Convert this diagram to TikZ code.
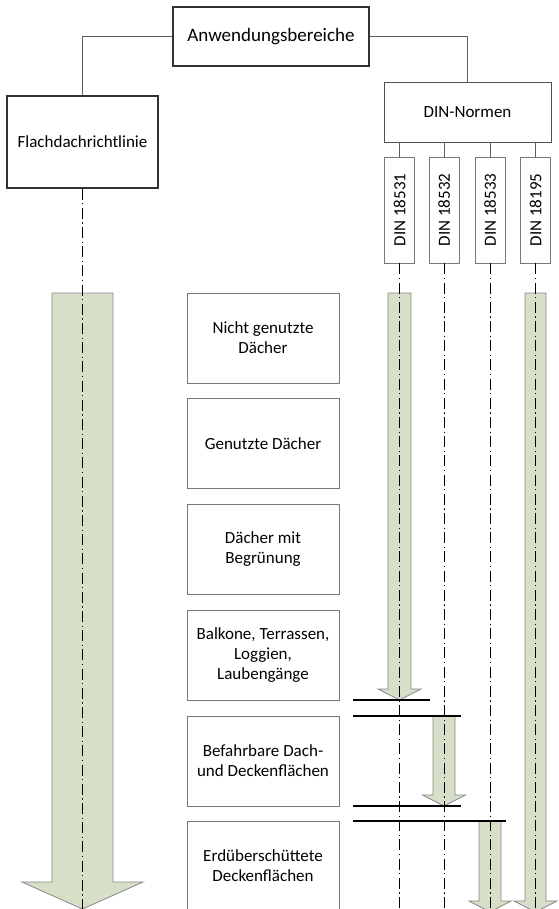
\documentclass[tikz,border=0pt]{standalone}
\usepackage{fontspec}
\setmainfont{Carlito}
\definecolor{arrowgreen}{RGB}{214,223,200}
\definecolor{arrowedge}{RGB}{135,135,135}
\definecolor{boxdark}{RGB}{50,50,50}
\definecolor{boxgray}{RGB}{120,120,120}
\definecolor{linkgray}{RGB}{95,95,95}
\begin{document}
\begin{tikzpicture}[x=1pt,y=-1pt,
  mainbox/.style={draw=boxdark,line width=1.3pt,fill=white,inner sep=0pt,align=center,font=\fontsize{17}{20}\selectfont},
  normbox/.style={draw=boxgray,line width=0.9pt,fill=white,inner sep=0pt,align=center,font=\fontsize{17}{20}\selectfont},
  dinbox/.style={normbox,minimum width=30pt,minimum height=106pt},
  catbox/.style={normbox,minimum width=152pt,minimum height=90pt},
  link/.style={draw=linkgray,line width=0.9pt},
  axis/.style={draw=black,line width=0.9pt,dash pattern=on 11pt off 3.5pt on 1.2pt off 3.5pt},
  fatarrow/.style={fill=arrowgreen,draw=arrowedge,line width=0.8pt},
  limit/.style={draw=black,line width=1.6pt}]
\useasboundingbox (0,0) rectangle (558,909);
\clip (0,0) rectangle (558,909);

% top level
\node[mainbox,minimum width=196pt,minimum height=59pt,font=\fontsize{19}{22}\selectfont] (top) at (271,36.5) {Anwendungsbereiche};
\node[mainbox,minimum width=151pt,minimum height=92pt] (flach) at (82.5,142) {Flachdachrichtlinie};
\node[normbox,draw=boxdark!85,minimum width=167pt,minimum height=60pt] (din) at (467.5,112) {DIN-Normen};

\node[dinbox] (d1) at (399.5,210) {\rotatebox{90}{DIN 18531}};
\node[dinbox] (d2) at (444,210) {\rotatebox{90}{DIN 18532}};
\node[dinbox] (d3) at (490,210) {\rotatebox{90}{DIN 18533}};
\node[dinbox] (d4) at (535.5,210) {\rotatebox{90}{DIN 18195}};

\draw[link] (top.west) -| (flach.north);
\draw[link] (top.east) -| (din.north);
\foreach \d in {d1,d2,d3,d4} \draw[link] (\d.north |- din.south) -- (\d.north);

% categories
\node[catbox] (c1) at (263,338) {Nicht genutzte\\Dächer};
\node[catbox] (c2) at (263,443.5) {Genutzte Dächer};
\node[catbox] (c3) at (263,549.5) {Dächer mit\\Begrünung};
\node[catbox] (c4) at (263,655) {Balkone, Terrassen,\\Loggien,\\Laubengänge};
\node[catbox] (c5) at (263,761) {Befahrbare Dach-\\und Deckenflächen};
\node[catbox] (c6) at (263,866) {Erdüberschüttete\\Deckenflächen};

% fat arrows
\path[fatarrow] (52,293) -- (113,293) -- (113,882) -- (143,882) -- (82.5,909) -- (22,882) -- (52,882) -- cycle;
\path[fatarrow] (388,293) -- (411,293) -- (411,689) -- (421,689) -- (399.5,700) -- (378,689) -- (388,689) -- cycle;
\path[fatarrow] (433,716) -- (455,716) -- (455,795) -- (465.5,795) -- (444,806) -- (422.5,795) -- (433,795) -- cycle;
\path[fatarrow] (479,821) -- (501,821) -- (501,901) -- (511,901) -- (490,912) -- (469,901) -- (479,901) -- cycle;
\path[fatarrow] (525,293) -- (546,293) -- (546,901) -- (557,901) -- (535.5,912) -- (514,901) -- (525,901) -- cycle;

% axes
\coordinate (bot) at (0,915);
\draw[axis] (flach.south) -- (flach.south |- bot);
\foreach \d in {d1,d2,d3,d4} \draw[axis] (\d.south) -- (\d.south |- bot);

% limit lines
\coordinate (l1a) at (353,700); \coordinate (l1b) at (430,700);
\coordinate (l2a) at (353,716); \coordinate (l2b) at (461,716);
\coordinate (l3a) at (353,806); \coordinate (l3b) at (461,806);
\coordinate (l4a) at (353,821); \coordinate (l4b) at (506,821);
\draw[limit] (l1a) -- (l1b);
\draw[limit] (l2a) -- (l2b);
\draw[limit] (l3a) -- (l3b);
\draw[limit] (l4a) -- (l4b);
\end{tikzpicture}
\end{document}
